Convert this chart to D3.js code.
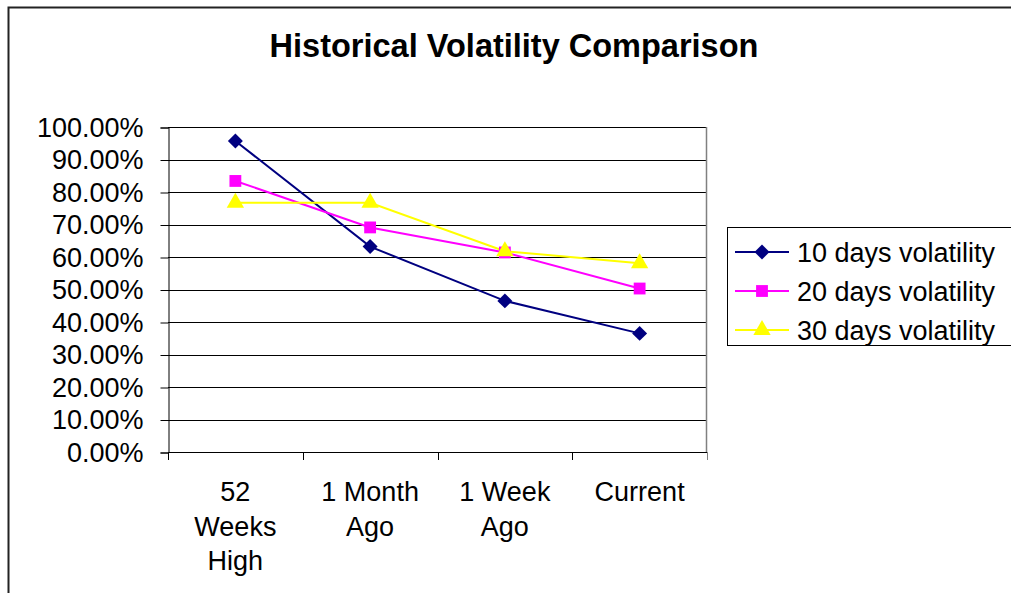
<!DOCTYPE html>
<html>
<head>
<meta charset="utf-8">
<script src="https://cdn.jsdelivr.net/npm/d3@7"></script>
<style>
  html, body { margin: 0; padding: 0; background: #fff; }
  svg { display: block; font-family: 'Liberation Sans', Arial, sans-serif; }
</style>
</head>
<body>
<svg id="svg" width="1011" height="593"></svg>
<script>
'use strict';

// Chart data
const categories = ['52 Weeks High', '1 Month Ago', '1 Week Ago', 'Current'];
const tickLabels = [['52', 'Weeks', 'High'], ['1 Month', 'Ago'], ['1 Week', 'Ago'], ['Current']];
const seriesNames = ['10 days volatility', '20 days volatility', '30 days volatility'];
const vol10 = [0.957, 0.632, 0.465, 0.365];
const vol20 = [0.834, 0.691, 0.614, 0.503];
const vol30 = [0.767, 0.767, 0.618, 0.581];
const yTicks = [0, 0.1, 0.2, 0.3, 0.4, 0.5, 0.6, 0.7, 0.8, 0.9, 1.0];

// Excel-style square diamond (rotated square)
const squareDiamond = {
  draw(ctx, size) {
    const r = Math.sqrt(size / 2);
    ctx.moveTo(0, -r);
    ctx.lineTo(r, 0);
    ctx.lineTo(0, r);
    ctx.lineTo(-r, 0);
    ctx.closePath();
  }
};

const COLORS = ['#000080', '#FF00FF', '#FFFF00'];
const SHAPES = [squareDiamond, d3.symbolSquare, d3.symbolTriangle];
const SIZES = [112, 140, 130];

const plot = { left: 168, right: 707, top: 127, bottom: 452 };

const svg = d3.select('#svg');

// Outer chart border
svg.append('path')
  .attr('d', 'M8.5,600 L8.5,7.5 L1020,7.5')
  .attr('fill', 'none')
  .attr('stroke', '#222')
  .attr('stroke-width', 2);

// Title
svg.append('text')
  .attr('x', 514)
  .attr('y', 57)
  .attr('text-anchor', 'middle')
  .attr('font-weight', 'bold')
  .attr('font-size', 32.5)
  .text('Historical Volatility Comparison');

const x = d3.scaleBand().domain(categories).range([plot.left, plot.right]).padding(0);
const y = d3.scaleLinear().domain([0, 1]).range([plot.bottom, plot.top]);

// Gridlines
svg.append('g')
  .selectAll('line')
  .data(yTicks.slice(1))
  .join('line')
  .attr('x1', plot.left)
  .attr('x2', plot.right)
  .attr('y1', d => Math.round(y(d)) + 0.5)
  .attr('y2', d => Math.round(y(d)) + 0.5)
  .attr('stroke', '#000')
  .attr('stroke-width', 1);

// Right border of plot area
svg.append('line')
  .attr('x1', plot.right - 0.5).attr('x2', plot.right - 0.5)
  .attr('y1', plot.top).attr('y2', plot.bottom)
  .attr('stroke', '#808080')
  .attr('stroke-width', 1.5);

// Y axis
const yAxis = d3.axisLeft(y)
  .tickValues(yTicks)
  .tickFormat(d3.format('.2%'))
  .tickSize(8)
  .tickPadding(17);

svg.append('g')
  .attr('transform', `translate(${plot.left + 0.5},0.5)`)
  .call(yAxis)
  .call(g => g.select('.domain').attr('stroke', '#000'))
  .call(g => g.selectAll('.tick line').attr('stroke', '#000'))
  .call(g => g.selectAll('.tick text')
    .attr('font-size', 27)
    .attr('font-family', "'Liberation Sans', Arial, sans-serif")
    .attr('fill', '#000'));

// X axis (ticks between categories)
const xEdges = categories.map(c => x(c)).concat([plot.right]);
svg.append('line')
  .attr('x1', plot.left).attr('x2', plot.right)
  .attr('y1', plot.bottom + 0.5).attr('y2', plot.bottom + 0.5)
  .attr('stroke', '#000');
svg.append('g')
  .selectAll('line')
  .data(xEdges)
  .join('line')
  .attr('x1', d => Math.round(d) + 0.5)
  .attr('x2', d => Math.round(d) + 0.5)
  .attr('y1', plot.bottom)
  .attr('y2', plot.bottom + 8)
  .attr('stroke', (d, i) => i === xEdges.length - 1 ? '#808080' : '#000');

// X labels
const xLabels = svg.append('g')
  .selectAll('text')
  .data(categories)
  .join('text')
  .attr('x', d => x(d) + x.bandwidth() / 2)
  .attr('y', 501)
  .attr('text-anchor', 'middle')
  .attr('font-size', 27)
  .attr('fill', '#000');
xLabels.each(function (d, i) {
  d3.select(this).selectAll('tspan')
    .data(tickLabels[i])
    .join('tspan')
    .attr('x', x(d) + x.bandwidth() / 2)
    .attr('dy', (t, j) => j === 0 ? 0 : 34.5)
    .text(t => t);
});

// Series lines and markers
const series = [vol10, vol20, vol30];
const line = d3.line()
  .x((d, i) => x(categories[i]) + x.bandwidth() / 2)
  .y(d => y(d));

series.forEach((values, s) => {
  svg.append('path')
    .datum(values)
    .attr('d', line)
    .attr('fill', 'none')
    .attr('stroke', COLORS[s])
    .attr('stroke-width', 2);
});

series.forEach((values, s) => {
  svg.append('g')
    .selectAll('path')
    .data(values)
    .join('path')
    .attr('transform', (d, i) => `translate(${x(categories[i]) + x.bandwidth() / 2},${y(d)})`)
    .attr('d', d3.symbol().type(SHAPES[s]).size(SIZES[s]))
    .attr('fill', COLORS[s]);
});

// Legend
const legend = svg.append('g');
legend.append('rect')
  .attr('x', 727.5)
  .attr('y', 227.5)
  .attr('width', 300)
  .attr('height', 118)
  .attr('fill', '#fff')
  .attr('stroke', '#000')
  .attr('stroke-width', 1);

const rows = legend.selectAll('g.row')
  .data(seriesNames)
  .join('g')
  .attr('class', 'row')
  .attr('transform', (d, i) => `translate(0,${252 + i * 39})`);

rows.append('line')
  .attr('x1', 735).attr('x2', 789)
  .attr('y1', 0).attr('y2', 0)
  .attr('stroke', (d, i) => COLORS[i])
  .attr('stroke-width', 2);
rows.append('path')
  .attr('transform', 'translate(762,0)')
  .attr('d', (d, i) => d3.symbol().type(SHAPES[i]).size(SIZES[i])())
  .attr('fill', (d, i) => COLORS[i]);
rows.append('text')
  .attr('x', 797)
  .attr('y', 9.5)
  .attr('font-size', 27)
  .attr('fill', '#000')
  .text(d => d);
</script>
</body>
</html>
